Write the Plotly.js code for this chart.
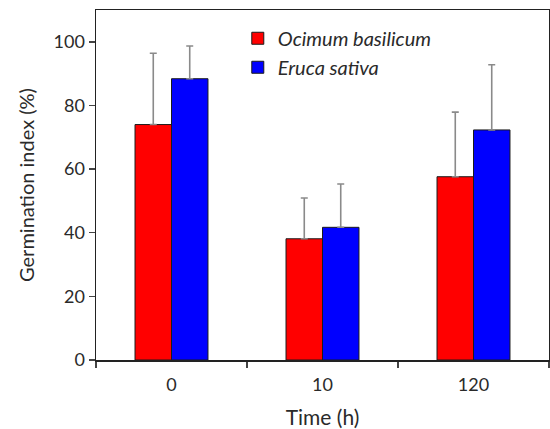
<!DOCTYPE html>
<html>
<head>
<meta charset="utf-8">
<script src="https://cdn.plot.ly/plotly-3.0.1.min.js"></script>
<style>html,body{margin:0;padding:0;background:#fff;}#chart{width:550px;height:429px;}</style>
</head>
<body>
<div id="chart"></div>
<script>
var times = ['0', '10', '120'];
var ocimumMean = [74.0, 38.1, 57.6];
var ocimumErr = [22.4, 12.8, 20.3];
var erucaMean = [88.4, 41.7, 72.3];
var erucaErr = [10.3, 13.6, 20.5];
var seriesNames = ['Ocimum basilicum', 'Eruca sativa'];
var yTicks = [0, 20, 40, 60, 80, 100];

var txt = '#2a2a2a';
var font = 'Lato, "Open Sans", sans-serif';

function errCfg(arr) {
  return {type: 'data', symmetric: false, array: arr, arrayminus: arr.map(function(){return 0;}),
          color: '#8a8a8a', thickness: 1.6, width: 3.5};
}

var traces = [
  {type: 'bar', x: times, y: ocimumMean, name: seriesNames[0],
   marker: {color: '#ff0000', line: {color: '#1a1a1a', width: 1}},
   error_y: errCfg(ocimumErr)},
  {type: 'bar', x: times, y: erucaMean, name: seriesNames[1],
   marker: {color: '#0000ff', line: {color: '#1a1a1a', width: 1}},
   error_y: errCfg(erucaErr)}
];

var layout = {
  width: 550, height: 429,
  margin: {l: 96, r: 1, t: 10, b: 69},
  paper_bgcolor: '#fff', plot_bgcolor: '#fff',
  barmode: 'group', bargap: 0.517, bargroupgap: 0,
  font: {family: font, color: txt, size: 18},
  xaxis: {
    type: 'category', showline: true, mirror: true, linecolor: '#222', linewidth: 1.5,
    ticks: 'outside', tickson: 'boundaries', ticklen: 6, tickcolor: '#444', tickwidth: 1.5,
    ticklabelstandoff: 8,
    showgrid: false, zeroline: false, automargin: false,
    tickfont: {family: font, size: 18, color: txt},
    title: {text: 'Time (h)', font: {family: font, size: 21, color: txt}, standoff: 16}
  },
  yaxis: {
    range: [0, 110], tickvals: yTicks, showline: true, mirror: true, linecolor: '#222', linewidth: 1.5,
    ticks: 'outside', ticklen: 6, tickcolor: '#444', tickwidth: 1.5,
    showgrid: false, zeroline: false, automargin: false,
    tickfont: {family: font, size: 18, color: txt},
    title: {text: 'Germination index (%)', font: {family: font, size: 20, color: txt}, standoff: 13}
  },
  legend: {
    x: 0.313, y: 0.975, xanchor: 'left', yanchor: 'top',
    bgcolor: 'rgba(0,0,0,0)', borderwidth: 0,
    font: {family: font, size: 20, color: txt, style: 'italic'},
    tracegroupgap: 0, itemwidth: 30
  },
  showlegend: true
};

Plotly.newPlot('chart', traces, layout, {displayModeBar: false, staticPlot: true});
</script>
</body>
</html>
